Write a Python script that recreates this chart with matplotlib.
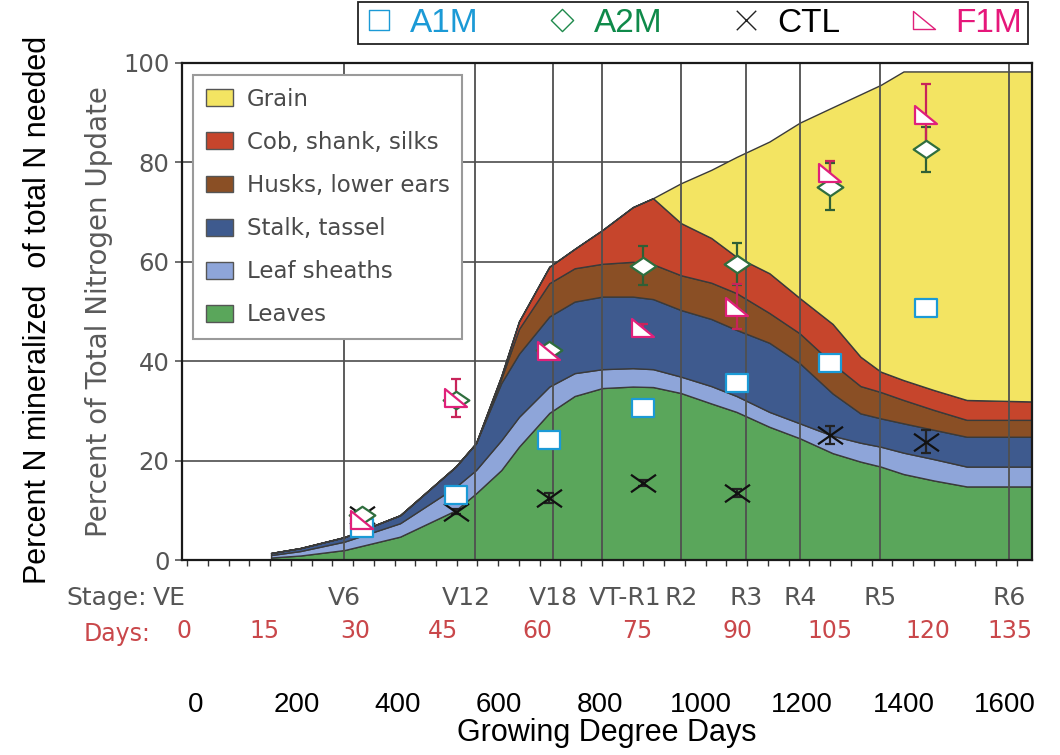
import numpy as np
import matplotlib
matplotlib.use("Agg")
import matplotlib.pyplot as plt
from matplotlib.path import Path
from matplotlib.lines import Line2D
from matplotlib.patches import Patch

plt.rcParams['font.family'] = ['DejaVu Sans']

# ---------------- data ----------------
# x positions in growing degree days (GDD)
gdd_area = [150, 208, 295, 405, 515, 555, 605, 640, 700, 750, 805, 865, 905, 960,
            1020, 1070, 1135, 1195, 1260, 1315, 1355, 1400, 1460, 1525, 1655]
leaves = [0.5, 0.9, 2.0, 4.7, 10.0, 13.4, 18.1, 22.8, 29.6, 33.0, 34.6, 34.9, 34.8, 33.6,
          31.5, 29.8, 26.8, 24.5, 21.5, 19.8, 18.8, 17.3, 16.0, 14.8, 14.8]
sheaths = [0.5, 0.9, 1.7, 2.7, 4.7, 4.7, 6.0, 6.0, 5.3, 4.6, 3.8, 3.7, 3.6, 3.3,
           3.5, 3.2, 3.0, 3.0, 3.5, 3.8, 4.0, 4.3, 4.3, 4.0, 4.0]
stalk = [0.4, 0.6, 0.9, 1.6, 4.1, 5.4, 11.5, 12.7, 14.1, 14.4, 14.6, 14.4, 14.1, 13.4,
         13.5, 13.3, 13.9, 12.1, 8.5, 5.9, 5.7, 5.9, 5.9, 6.0, 6.0]
husks = [0, 0, 0, 0, 0, 0, 0.9, 5.0, 6.7, 6.7, 6.6, 7.0, 7.0, 7.0,
         7.3, 7.4, 6.0, 6.0, 6.0, 5.5, 5.3, 4.7, 4.0, 3.4, 3.4]
cob = [0, 0, 0, 0, 0, 0, 0.5, 1.5, 3.3, 3.9, 6.8, 11.0, 13.3, 10.5,
       9.0, 7.3, 8.0, 7.1, 8.0, 5.9, 4.1, 4.0, 4.0, 4.0, 3.7]
grain = [0, 0, 0, 0, 0, 0, 0, 0, 0, 0, 0, 0, 0, 8.0,
         13.7, 20.1, 26.5, 35.3, 43.6, 52.8, 57.7, 62.1, 64.1, 66.1, 66.4]

part_names = ['Leaves', 'Leaf sheaths', 'Stalk, tassel', 'Husks, lower ears',
              'Cob, shank, silks', 'Grain']
part_colors = ['#5aa65b', '#8ea5d9', '#3e5a8e', '#8a4f25', '#c6452c', '#f3e462']

# growth stages and days (positions in GDD)
stages = ['VE', 'V6', 'V12', 'V18', 'VT-R1', 'R2', 'R3', 'R4', 'R5', 'R6']
stage_gdd = [-26, 295, 553, 708, 804, 961, 1089, 1196, 1354, 1609]
days = [0, 15, 30, 45, 60, 75, 90, 105, 120, 135]
days_gdd = [-22, 138, 316, 490, 676, 874, 1071, 1255, 1449, 1611]
gdd_ticks = [0, 200, 400, 600, 800, 1000, 1200, 1400, 1600]

# measured treatments
sample_gdd = [330, 515, 700, 885, 1070, 1255, 1445]
a1m = [6.5, 13.1, 24.1, 30.5, 35.7, 39.7, 50.7]
a1m_err = [0.5, 0.5, 0.5, 0.5, 0.8, 0.5, 1.0]
a2m = [9.0, 32.2, 42.3, 59.2, 59.6, 75.1, 82.6]
a2m_err = [0.8, 1.0, 0.8, 3.9, 4.2, 4.7, 4.5]
ctl = [9.0, 9.7, 12.4, 15.5, 13.5, 25.2, 23.8]
ctl_err = [0.5, 0.5, 1.0, 0.6, 0.8, 1.8, 2.3]
f1m = [8.0, 32.6, 42.1, 46.7, 51.0, 77.8, 89.5]
f1m_err = [0.8, 3.8, 1.0, 0.8, 4.5, 2.4, 6.2]

# ---------------- markers ----------------
sq_path = Path([(-1, -0.78), (1, -0.78), (1, 0.78), (-1, 0.78), (-1, -0.78)],
               [Path.MOVETO, Path.LINETO, Path.LINETO, Path.LINETO, Path.CLOSEPOLY])
dia_path = Path([(0, -0.68), (1, 0), (0, 0.68), (-1, 0), (0, -0.68)],
                [Path.MOVETO, Path.LINETO, Path.LINETO, Path.LINETO, Path.CLOSEPOLY])
x_path = Path([(-1, -0.7), (1, 0.7), (-1, 0.7), (1, -0.7)],
              [Path.MOVETO, Path.LINETO, Path.MOVETO, Path.LINETO])
tri_path = Path([(-1, 0.8), (-1, -0.8), (1, -0.8), (-1, 0.8)],
                [Path.MOVETO, Path.LINETO, Path.LINETO, Path.CLOSEPOLY])
sq_leg = Path([(-1, -1), (1, -1), (1, 1), (-1, 1), (-1, -1)],
              [Path.MOVETO, Path.LINETO, Path.LINETO, Path.LINETO, Path.CLOSEPOLY])
dia_leg = Path([(0, -1), (1, 0), (0, 1), (-1, 0), (0, -1)],
               [Path.MOVETO, Path.LINETO, Path.LINETO, Path.LINETO, Path.CLOSEPOLY])
x_leg = Path([(-1, -1), (1, 1), (-1, 1), (1, -1)],
             [Path.MOVETO, Path.LINETO, Path.MOVETO, Path.LINETO])
tri_leg = Path([(-1, 0.85), (-1, -0.85), (1, -0.85), (-1, 0.85)],
               [Path.MOVETO, Path.LINETO, Path.LINETO, Path.CLOSEPOLY])

c_a1m, c_a2m, c_ctl, c_f1m = '#1b9ad6', '#2f6e3e', '#111111', '#e0207a'

# ---------------- figure ----------------
fig = plt.figure(figsize=(10.6, 7.55), dpi=100)
ax = fig.add_axes([182/1060, 195/755, 850/1060, 497/755])
ax.set_xlim(-26, 1654)
ax.set_ylim(0, 100)

ax.stackplot(gdd_area, leaves, sheaths, stalk, husks, cob, grain,
             colors=part_colors, edgecolor='#3a3a3a', linewidth=1.0, zorder=2)

# grid
ax.set_axisbelow(True)
ax.yaxis.grid(True, color='#5a5a5a', lw=1.3)
for xs in stage_gdd:
    ax.axvline(xs, color='#4f4f4f', lw=1.3, zorder=2.5)

# error bars + markers
series = [
    (ctl, ctl_err, c_ctl, x_path, 18, '#222222'),
    (a1m, a1m_err, c_a1m, sq_path, 16, c_a1m),
    (a2m, a2m_err, c_a2m, dia_path, 18.5, '#2f5f35'),
    (f1m, f1m_err, c_f1m, tri_path, 16, '#c8245a'),
]
for vals, errs, col, mk, ms, ecol in series:
    ax.errorbar(sample_gdd, vals, yerr=errs, fmt='none', ecolor=ecol,
                elinewidth=1.6, capsize=3.6, capthick=1.6, zorder=4)
    ax.plot(sample_gdd, vals, ls='none', marker=mk, markersize=ms,
            mfc='white', mec=col, mew=1.6, zorder=5)

# spines / ticks
for s in ax.spines.values():
    s.set_color('#1a1a1a')
    s.set_linewidth(1.6)
ax.set_yticks(range(0, 101, 20))
ax.tick_params(axis='y', length=5, width=1.2, color='#555555',
               labelsize=17.5, labelcolor='#555555', pad=4)
ax.set_xticks([])
ax.set_xticks(np.arange(-16, 1655, 41), minor=True)
ax.tick_params(axis='x', which='minor', length=4, width=1.0, color='#333333',
               direction='out')
ax.set_ylabel('Percent of Total Nitrogen Update', fontsize=20,
              color='#5a5a5a', labelpad=7)

# stage labels
stage_dx = [-9, 0, -6, 0, 16.5, 0, 0, 0, 0, 0]
for lab, xs, dx in zip(stages, stage_gdd, stage_dx):
    ax.annotate(lab, xy=(xs, 0), xycoords=('data', 'axes fraction'),
                xytext=(dx, -27.5), textcoords='offset points',
                ha='center', va='center', fontsize=18, color='#555555',
                annotation_clip=False)
ax.annotate('Stage:', xy=(0, 0), xycoords='axes fraction',
            xytext=(-25, -27.5), textcoords='offset points',
            ha='right', va='center', fontsize=18, color='#555555')

# days axis
dax = ax.secondary_xaxis((560 - 618) / 497)
dax.set_xticks(days_gdd, [str(d) for d in days])
dax.tick_params(length=0, pad=1.0, labelsize=17, labelcolor='#c9474a')
dax.spines['bottom'].set_visible(False)
ax.annotate('Days:', xy=(0, (560 - 618) / 497), xycoords='axes fraction',
            xytext=(-23, -11.5), textcoords='offset points',
            ha='right', va='center', fontsize=17, color='#c9474a')

# GDD axis
gax = ax.secondary_xaxis((560 - 691) / 497)
gax.set_xticks(gdd_ticks, [str(g) for g in gdd_ticks])
gax.tick_params(length=0, pad=1.0, labelsize=20, labelcolor='black')
for t in gax.get_xticklabels():
    t.set_fontfamily('Liberation Sans')
gax.spines['bottom'].set_visible(False)
gax.set_xlabel('Growing Degree Days', fontsize=22, fontfamily='Liberation Sans',
               labelpad=0)

# outer y label
fig.text(38/1060, 1 - 310/755, 'Percent N mineralized  of total N needed',
         rotation=90, ha='center', va='center', fontsize=22,
         fontfamily='Liberation Sans', color='black')

# inner legend (plant parts)
part_handles = [Patch(facecolor=c, edgecolor='#555555', lw=1.0)
                for c in part_colors[::-1]]
leg1 = ax.legend(part_handles, part_names[::-1], loc='upper left',
                 bbox_to_anchor=(11/850, (560 - 75)/497), borderaxespad=0,
                 fontsize=16.5, labelspacing=0.88, handlelength=1.2,
                 handleheight=0.75, handletextpad=0.6, borderpad=0.55,
                 fancybox=False, framealpha=1, edgecolor='#9a9a9a',
                 labelcolor='#4a4a4a')
leg1.get_frame().set_linewidth(1.5)
leg1.set_zorder(6)

# top legend (treatments)
tr_handles = [
    Line2D([], [], ls='none', marker=sq_leg, markersize=14, mfc='none', mec=c_a1m, mew=1.0),
    Line2D([], [], ls='none', marker=dia_leg, markersize=16, mfc='none', mec='#1f8a4c', mew=1.0),
    Line2D([], [], ls='none', marker=x_leg, markersize=14, mfc='none', mec='#222222', mew=1.0),
    Line2D([], [], ls='none', marker=tri_leg, markersize=16, mfc='none', mec=c_f1m, mew=1.0),
]
leg2 = fig.legend(tr_handles, ['A1M', 'A2M', 'CTL', 'F1M'], loc='upper right',
                  bbox_to_anchor=(1028/1060, 1 - 2/755), ncol=4, borderaxespad=0,
                  prop={'family': 'Liberation Sans', 'size': 24},
                  handlelength=0.9, handletextpad=0.5, columnspacing=2.05,
                  borderpad=0.17, fancybox=False, framealpha=1,
                  edgecolor='#222222')
leg2.get_frame().set_linewidth(1.3)
for t, c in zip(leg2.get_texts(), ['#1b9ad6', '#0f8a4a', '#000000', '#e6177a']):
    t.set_color(c)

fig.savefig('out.png', dpi=100)
